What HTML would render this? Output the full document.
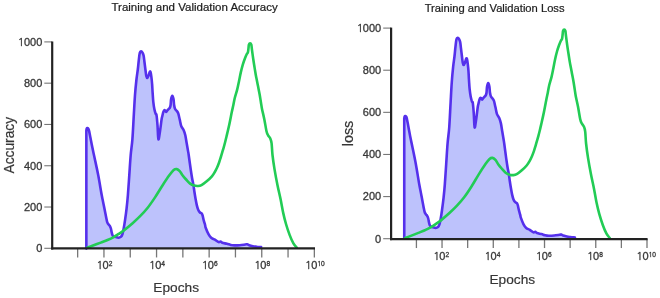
<!DOCTYPE html>
<html><head><meta charset="utf-8"><style>
html,body{margin:0;padding:0;background:#fff;}
body{width:660px;height:298px;overflow:hidden;}
svg{display:block;}
text{font-family:"Liberation Sans", Arial, sans-serif;}
.tl{font-size:11px;fill:#383838;stroke:#383838;stroke-width:0.3px;}
.sup{font-size:6.6px;}
.one{font-family:NanumGothic, "Liberation Sans", sans-serif;letter-spacing:-0.05em;}
.title{font-size:11.5px;fill:#1e1e1e;stroke:#1e1e1e;stroke-width:0.22px;}
.al{font-size:13.7px;fill:#363636;stroke:#363636;stroke-width:0.2px;}
</style></head><body>
<svg width="660" height="298" viewBox="0 0 660 298">
<rect width="660" height="298" fill="#fff"/>
<path d="M86.35,248.60 L86.35,130.50 C86.42,130.18 86.58,129.00 86.75,128.60 C86.92,128.20 87.11,128.03 87.40,128.10 C87.69,128.17 88.20,128.45 88.50,129.00 C88.80,129.55 88.87,129.88 89.20,131.40 C89.53,132.92 90.07,135.87 90.50,138.10 C90.93,140.33 91.35,142.55 91.80,144.80 C92.25,147.05 92.73,149.40 93.20,151.60 C93.67,153.80 93.77,154.08 94.60,158.00 C95.43,161.92 97.02,168.93 98.20,175.10 C99.38,181.27 100.83,190.28 101.70,195.00 C102.57,199.72 102.78,200.32 103.40,203.40 C104.02,206.48 104.88,210.90 105.40,213.50 C105.92,216.10 106.17,217.48 106.50,219.00 C106.83,220.52 107.05,221.68 107.40,222.60 C107.75,223.52 108.20,223.95 108.60,224.50 C109.00,225.05 109.42,225.23 109.80,225.90 C110.18,226.57 110.60,227.48 110.90,228.50 C111.20,229.52 111.35,230.92 111.60,232.00 C111.85,233.08 112.07,234.25 112.40,235.00 C112.73,235.75 113.02,236.15 113.60,236.50 C114.18,236.85 115.10,236.90 115.90,237.10 C116.70,237.30 117.57,237.75 118.40,237.70 C119.23,237.65 120.23,237.38 120.90,236.80 C121.57,236.22 121.97,235.40 122.40,234.20 C122.83,233.00 123.07,231.90 123.50,229.60 C123.93,227.30 124.48,223.93 125.00,220.40 C125.52,216.87 126.12,212.63 126.60,208.40 C127.08,204.17 127.45,200.55 127.90,195.00 C128.35,189.45 128.83,181.77 129.30,175.10 C129.77,168.43 130.18,160.97 130.70,155.00 C131.22,149.03 131.88,145.95 132.40,139.30 C132.92,132.65 133.37,122.48 133.80,115.10 C134.23,107.72 134.57,100.85 135.00,95.00 C135.43,89.15 135.93,84.25 136.40,80.00 C136.87,75.75 137.40,72.82 137.80,69.50 C138.20,66.18 138.47,62.88 138.80,60.10 C139.13,57.32 139.42,54.25 139.80,52.80 C140.18,51.35 140.65,51.43 141.10,51.40 C141.55,51.37 142.08,51.90 142.50,52.60 C142.92,53.30 143.28,54.12 143.60,55.60 C143.92,57.08 144.10,59.18 144.40,61.50 C144.70,63.82 145.08,67.08 145.40,69.50 C145.72,71.92 146.00,74.58 146.30,76.00 C146.60,77.42 146.85,78.00 147.20,78.00 C147.55,78.00 147.97,77.03 148.40,76.00 C148.83,74.97 149.43,72.42 149.80,71.80 C150.17,71.18 150.33,71.40 150.60,72.30 C150.87,73.20 151.15,75.25 151.40,77.20 C151.65,79.15 151.90,81.47 152.10,84.00 C152.30,86.53 152.40,89.43 152.60,92.40 C152.80,95.37 153.00,99.00 153.30,101.80 C153.60,104.60 154.00,107.18 154.40,109.20 C154.80,111.22 155.35,112.92 155.70,113.90 C156.05,114.88 156.20,113.22 156.50,115.10 C156.80,116.98 157.18,121.17 157.50,125.20 C157.82,129.23 157.98,138.30 158.40,139.30 C158.82,140.30 159.47,134.55 160.00,131.20 C160.53,127.85 161.20,121.77 161.60,119.20 C162.00,116.63 162.13,116.93 162.40,115.80 C162.67,114.67 162.90,113.32 163.20,112.40 C163.50,111.48 163.88,110.62 164.20,110.30 C164.52,109.98 164.78,110.22 165.10,110.50 C165.42,110.78 165.77,111.97 166.10,112.00 C166.43,112.03 166.68,111.18 167.10,110.70 C167.52,110.22 168.13,109.62 168.60,109.10 C169.07,108.58 169.57,108.28 169.90,107.60 C170.23,106.92 170.40,106.38 170.60,105.00 C170.80,103.62 170.82,100.83 171.10,99.30 C171.38,97.77 171.90,95.83 172.30,95.80 C172.70,95.77 173.20,97.57 173.50,99.10 C173.80,100.63 173.83,103.35 174.10,105.00 C174.37,106.65 174.67,108.03 175.10,109.00 C175.53,109.97 176.18,110.10 176.70,110.80 C177.22,111.50 177.78,112.13 178.20,113.20 C178.62,114.27 178.88,115.87 179.20,117.20 C179.52,118.53 179.75,119.70 180.10,121.20 C180.45,122.70 180.70,124.70 181.30,126.20 C181.90,127.70 183.03,128.68 183.70,130.20 C184.37,131.72 184.80,133.12 185.30,135.30 C185.80,137.48 186.23,140.62 186.70,143.30 C187.17,145.98 187.77,149.45 188.10,151.40 C188.43,153.35 188.25,151.90 188.70,155.00 C189.15,158.10 190.23,166.13 190.80,170.00 C191.37,173.87 191.67,175.72 192.10,178.20 C192.53,180.68 193.02,182.65 193.40,184.90 C193.78,187.15 194.05,189.45 194.40,191.70 C194.75,193.95 195.10,196.17 195.50,198.40 C195.90,200.63 196.35,203.20 196.80,205.10 C197.25,207.00 197.67,208.57 198.20,209.80 C198.73,211.03 199.40,211.88 200.00,212.50 C200.60,213.12 201.35,212.93 201.80,213.50 C202.25,214.07 202.37,214.72 202.70,215.90 C203.03,217.08 203.40,219.08 203.80,220.60 C204.20,222.12 204.78,223.82 205.10,225.00 C205.42,226.18 205.13,226.17 205.70,227.70 C206.27,229.23 207.58,232.52 208.50,234.20 C209.42,235.88 210.13,236.88 211.20,237.80 C212.27,238.72 213.67,238.98 214.90,239.70 C216.13,240.42 217.67,241.80 218.60,242.10 C219.53,242.40 219.88,241.38 220.50,241.50 C221.12,241.62 221.23,242.42 222.30,242.80 C223.37,243.18 225.52,243.45 226.90,243.80 C228.28,244.15 229.37,244.63 230.60,244.90 C231.83,245.17 232.77,245.35 234.30,245.40 C235.83,245.45 237.95,245.35 239.80,245.20 C241.65,245.05 244.17,244.65 245.40,244.50 C246.63,244.35 246.58,244.18 247.20,244.30 C247.82,244.42 248.17,244.88 249.10,245.20 C250.03,245.52 251.57,245.95 252.80,246.20 C254.03,246.45 255.12,246.55 256.50,246.70 C257.88,246.85 260.33,247.03 261.10,247.10 L261.10,248.60 Z" fill="#bdc2fc" stroke="none"/>
<path d="M86.35,248.60 L86.35,130.50 C86.42,130.18 86.58,129.00 86.75,128.60 C86.92,128.20 87.11,128.03 87.40,128.10 C87.69,128.17 88.20,128.45 88.50,129.00 C88.80,129.55 88.87,129.88 89.20,131.40 C89.53,132.92 90.07,135.87 90.50,138.10 C90.93,140.33 91.35,142.55 91.80,144.80 C92.25,147.05 92.73,149.40 93.20,151.60 C93.67,153.80 93.77,154.08 94.60,158.00 C95.43,161.92 97.02,168.93 98.20,175.10 C99.38,181.27 100.83,190.28 101.70,195.00 C102.57,199.72 102.78,200.32 103.40,203.40 C104.02,206.48 104.88,210.90 105.40,213.50 C105.92,216.10 106.17,217.48 106.50,219.00 C106.83,220.52 107.05,221.68 107.40,222.60 C107.75,223.52 108.20,223.95 108.60,224.50 C109.00,225.05 109.42,225.23 109.80,225.90 C110.18,226.57 110.60,227.48 110.90,228.50 C111.20,229.52 111.35,230.92 111.60,232.00 C111.85,233.08 112.07,234.25 112.40,235.00 C112.73,235.75 113.02,236.15 113.60,236.50 C114.18,236.85 115.10,236.90 115.90,237.10 C116.70,237.30 117.57,237.75 118.40,237.70 C119.23,237.65 120.23,237.38 120.90,236.80 C121.57,236.22 121.97,235.40 122.40,234.20 C122.83,233.00 123.07,231.90 123.50,229.60 C123.93,227.30 124.48,223.93 125.00,220.40 C125.52,216.87 126.12,212.63 126.60,208.40 C127.08,204.17 127.45,200.55 127.90,195.00 C128.35,189.45 128.83,181.77 129.30,175.10 C129.77,168.43 130.18,160.97 130.70,155.00 C131.22,149.03 131.88,145.95 132.40,139.30 C132.92,132.65 133.37,122.48 133.80,115.10 C134.23,107.72 134.57,100.85 135.00,95.00 C135.43,89.15 135.93,84.25 136.40,80.00 C136.87,75.75 137.40,72.82 137.80,69.50 C138.20,66.18 138.47,62.88 138.80,60.10 C139.13,57.32 139.42,54.25 139.80,52.80 C140.18,51.35 140.65,51.43 141.10,51.40 C141.55,51.37 142.08,51.90 142.50,52.60 C142.92,53.30 143.28,54.12 143.60,55.60 C143.92,57.08 144.10,59.18 144.40,61.50 C144.70,63.82 145.08,67.08 145.40,69.50 C145.72,71.92 146.00,74.58 146.30,76.00 C146.60,77.42 146.85,78.00 147.20,78.00 C147.55,78.00 147.97,77.03 148.40,76.00 C148.83,74.97 149.43,72.42 149.80,71.80 C150.17,71.18 150.33,71.40 150.60,72.30 C150.87,73.20 151.15,75.25 151.40,77.20 C151.65,79.15 151.90,81.47 152.10,84.00 C152.30,86.53 152.40,89.43 152.60,92.40 C152.80,95.37 153.00,99.00 153.30,101.80 C153.60,104.60 154.00,107.18 154.40,109.20 C154.80,111.22 155.35,112.92 155.70,113.90 C156.05,114.88 156.20,113.22 156.50,115.10 C156.80,116.98 157.18,121.17 157.50,125.20 C157.82,129.23 157.98,138.30 158.40,139.30 C158.82,140.30 159.47,134.55 160.00,131.20 C160.53,127.85 161.20,121.77 161.60,119.20 C162.00,116.63 162.13,116.93 162.40,115.80 C162.67,114.67 162.90,113.32 163.20,112.40 C163.50,111.48 163.88,110.62 164.20,110.30 C164.52,109.98 164.78,110.22 165.10,110.50 C165.42,110.78 165.77,111.97 166.10,112.00 C166.43,112.03 166.68,111.18 167.10,110.70 C167.52,110.22 168.13,109.62 168.60,109.10 C169.07,108.58 169.57,108.28 169.90,107.60 C170.23,106.92 170.40,106.38 170.60,105.00 C170.80,103.62 170.82,100.83 171.10,99.30 C171.38,97.77 171.90,95.83 172.30,95.80 C172.70,95.77 173.20,97.57 173.50,99.10 C173.80,100.63 173.83,103.35 174.10,105.00 C174.37,106.65 174.67,108.03 175.10,109.00 C175.53,109.97 176.18,110.10 176.70,110.80 C177.22,111.50 177.78,112.13 178.20,113.20 C178.62,114.27 178.88,115.87 179.20,117.20 C179.52,118.53 179.75,119.70 180.10,121.20 C180.45,122.70 180.70,124.70 181.30,126.20 C181.90,127.70 183.03,128.68 183.70,130.20 C184.37,131.72 184.80,133.12 185.30,135.30 C185.80,137.48 186.23,140.62 186.70,143.30 C187.17,145.98 187.77,149.45 188.10,151.40 C188.43,153.35 188.25,151.90 188.70,155.00 C189.15,158.10 190.23,166.13 190.80,170.00 C191.37,173.87 191.67,175.72 192.10,178.20 C192.53,180.68 193.02,182.65 193.40,184.90 C193.78,187.15 194.05,189.45 194.40,191.70 C194.75,193.95 195.10,196.17 195.50,198.40 C195.90,200.63 196.35,203.20 196.80,205.10 C197.25,207.00 197.67,208.57 198.20,209.80 C198.73,211.03 199.40,211.88 200.00,212.50 C200.60,213.12 201.35,212.93 201.80,213.50 C202.25,214.07 202.37,214.72 202.70,215.90 C203.03,217.08 203.40,219.08 203.80,220.60 C204.20,222.12 204.78,223.82 205.10,225.00 C205.42,226.18 205.13,226.17 205.70,227.70 C206.27,229.23 207.58,232.52 208.50,234.20 C209.42,235.88 210.13,236.88 211.20,237.80 C212.27,238.72 213.67,238.98 214.90,239.70 C216.13,240.42 217.67,241.80 218.60,242.10 C219.53,242.40 219.88,241.38 220.50,241.50 C221.12,241.62 221.23,242.42 222.30,242.80 C223.37,243.18 225.52,243.45 226.90,243.80 C228.28,244.15 229.37,244.63 230.60,244.90 C231.83,245.17 232.77,245.35 234.30,245.40 C235.83,245.45 237.95,245.35 239.80,245.20 C241.65,245.05 244.17,244.65 245.40,244.50 C246.63,244.35 246.58,244.18 247.20,244.30 C247.82,244.42 248.17,244.88 249.10,245.20 C250.03,245.52 251.57,245.95 252.80,246.20 C254.03,246.45 255.12,246.55 256.50,246.70 C257.88,246.85 260.33,247.03 261.10,247.10" fill="none" stroke="#5530ec" stroke-width="2.6" stroke-linejoin="round" stroke-linecap="round"/>
<path d="M87.20,247.70 C88.07,247.38 90.13,246.65 92.40,245.80 C94.67,244.95 98.28,243.57 100.80,242.60 C103.32,241.63 105.42,240.88 107.50,240.00 C109.58,239.12 111.35,238.37 113.30,237.30 C115.25,236.23 117.38,234.80 119.20,233.60 C121.02,232.40 121.97,231.83 124.20,230.10 C126.43,228.37 129.95,225.52 132.60,223.20 C135.25,220.88 137.58,218.78 140.10,216.20 C142.62,213.62 145.18,210.88 147.70,207.70 C150.22,204.52 152.68,200.88 155.20,197.10 C157.72,193.32 160.42,188.67 162.80,185.00 C165.18,181.33 167.68,177.58 169.50,175.10 C171.32,172.62 172.50,171.10 173.70,170.10 C174.90,169.10 175.70,168.93 176.70,169.10 C177.70,169.27 178.70,170.03 179.70,171.10 C180.70,172.17 181.63,174.10 182.70,175.50 C183.77,176.90 184.87,178.15 186.10,179.50 C187.33,180.85 188.77,182.58 190.10,183.60 C191.43,184.62 192.77,185.20 194.10,185.60 C195.43,186.00 196.87,186.08 198.10,186.00 C199.33,185.92 200.07,185.88 201.50,185.10 C202.93,184.32 204.97,182.77 206.70,181.30 C208.43,179.83 210.55,177.85 211.90,176.30 C213.25,174.75 213.93,173.47 214.80,172.00 C215.67,170.53 216.38,169.08 217.10,167.50 C217.82,165.92 218.50,164.17 219.10,162.50 C219.70,160.83 220.17,159.22 220.70,157.50 C221.23,155.78 221.80,153.87 222.30,152.20 C222.80,150.53 223.23,149.17 223.70,147.50 C224.17,145.83 224.63,144.03 225.10,142.20 C225.57,140.37 225.80,139.45 226.50,136.50 C227.20,133.55 228.42,128.57 229.30,124.50 C230.18,120.43 231.13,115.32 231.80,112.10 C232.47,108.88 232.82,107.52 233.30,105.20 C233.78,102.88 234.07,100.75 234.70,98.20 C235.33,95.65 236.38,92.73 237.10,89.90 C237.82,87.07 238.38,84.12 239.00,81.20 C239.62,78.28 240.17,75.17 240.80,72.40 C241.43,69.63 242.12,66.92 242.80,64.60 C243.48,62.28 244.25,60.22 244.90,58.50 C245.55,56.78 246.20,55.32 246.70,54.30 C247.20,53.28 247.60,53.42 247.90,52.40 C248.20,51.38 248.33,49.48 248.50,48.20 C248.67,46.92 248.63,45.53 248.90,44.70 C249.17,43.87 249.70,43.20 250.10,43.20 C250.50,43.20 251.00,43.67 251.30,44.70 C251.60,45.73 251.58,47.05 251.90,49.40 C252.22,51.75 252.77,55.85 253.20,58.80 C253.63,61.75 254.07,64.40 254.50,67.10 C254.93,69.80 255.45,73.02 255.80,75.00 C256.15,76.98 256.23,77.15 256.60,79.00 C256.97,80.85 257.50,83.57 258.00,86.10 C258.50,88.63 259.12,91.52 259.60,94.20 C260.08,96.88 260.50,99.75 260.90,102.20 C261.30,104.65 261.43,106.07 262.00,108.90 C262.57,111.73 263.55,115.48 264.30,119.20 C265.05,122.92 265.87,128.52 266.50,131.20 C267.13,133.88 267.47,134.08 268.10,135.30 C268.73,136.52 269.72,137.17 270.30,138.50 C270.88,139.83 271.23,140.55 271.60,143.30 C271.97,146.05 272.02,150.70 272.50,155.00 C272.98,159.30 273.67,164.07 274.50,169.10 C275.33,174.13 276.48,180.17 277.50,185.20 C278.52,190.23 279.65,194.68 280.60,199.30 C281.55,203.92 282.30,208.78 283.20,212.90 C284.10,217.02 284.92,220.30 286.00,224.00 C287.08,227.70 288.47,231.87 289.70,235.10 C290.93,238.33 292.23,241.32 293.40,243.40 C294.57,245.48 296.15,246.90 296.70,247.60" fill="none" stroke="#22cc55" stroke-width="2.6" stroke-linejoin="round" stroke-linecap="round"/>
<line x1="44.30" x2="52.20" y1="248.30" y2="248.30" stroke="#777" stroke-width="1.1"/>
<text x="42.30" y="252.20" text-anchor="end" class="tl">0</text>
<line x1="44.30" x2="52.20" y1="207.02" y2="207.02" stroke="#777" stroke-width="1.1"/>
<text x="42.30" y="210.92" text-anchor="end" class="tl">200</text>
<line x1="44.30" x2="52.20" y1="165.74" y2="165.74" stroke="#777" stroke-width="1.1"/>
<text x="42.30" y="169.64" text-anchor="end" class="tl">400</text>
<line x1="44.30" x2="52.20" y1="124.46" y2="124.46" stroke="#777" stroke-width="1.1"/>
<text x="42.30" y="128.36" text-anchor="end" class="tl">600</text>
<line x1="44.30" x2="52.20" y1="83.18" y2="83.18" stroke="#777" stroke-width="1.1"/>
<text x="42.30" y="87.08" text-anchor="end" class="tl">800</text>
<line x1="44.30" x2="52.20" y1="41.90" y2="41.90" stroke="#777" stroke-width="1.1"/>
<text x="42.30" y="45.80" text-anchor="end" class="tl"><tspan class="one">1</tspan>000</text>
<line x1="77.65" x2="77.65" y1="248.45" y2="257.45" stroke="#777" stroke-width="1.3"/>
<line x1="103.95" x2="103.95" y1="248.45" y2="257.45" stroke="#777" stroke-width="1.3"/>
<text x="104.40" y="268.95" text-anchor="middle" class="tl"><tspan class="one">1</tspan>0<tspan class="sup" dy="-3.1">2</tspan></text>
<line x1="130.25" x2="130.25" y1="248.45" y2="257.45" stroke="#777" stroke-width="1.3"/>
<line x1="156.55" x2="156.55" y1="248.45" y2="257.45" stroke="#777" stroke-width="1.3"/>
<text x="157.00" y="268.95" text-anchor="middle" class="tl"><tspan class="one">1</tspan>0<tspan class="sup" dy="-3.1">4</tspan></text>
<line x1="182.85" x2="182.85" y1="248.45" y2="257.45" stroke="#777" stroke-width="1.3"/>
<line x1="209.15" x2="209.15" y1="248.45" y2="257.45" stroke="#777" stroke-width="1.3"/>
<text x="209.60" y="268.95" text-anchor="middle" class="tl"><tspan class="one">1</tspan>0<tspan class="sup" dy="-3.1">6</tspan></text>
<line x1="235.45" x2="235.45" y1="248.45" y2="257.45" stroke="#777" stroke-width="1.3"/>
<line x1="261.75" x2="261.75" y1="248.45" y2="257.45" stroke="#777" stroke-width="1.3"/>
<text x="262.20" y="268.95" text-anchor="middle" class="tl"><tspan class="one">1</tspan>0<tspan class="sup" dy="-3.1">8</tspan></text>
<line x1="288.05" x2="288.05" y1="248.45" y2="257.45" stroke="#777" stroke-width="1.3"/>
<line x1="314.35" x2="314.35" y1="248.45" y2="257.45" stroke="#777" stroke-width="1.3"/>
<text x="314.80" y="268.95" text-anchor="middle" class="tl"><tspan class="one">1</tspan>0<tspan class="sup" dy="-3.1"><tspan class="one">1</tspan>0</tspan></text>
<line x1="52.20" x2="52.20" y1="41.50" y2="249.55" stroke="#222" stroke-width="2.2"/>
<line x1="51.10" x2="315.00" y1="248.45" y2="248.45" stroke="#222" stroke-width="2.2"/>
<text x="194.60" y="11.40" text-anchor="middle" class="title" style="font-size:11.5px">Training and Validation Accuracy</text>
<text x="176.20" y="291.90" text-anchor="middle" class="al">Epochs</text>
<text transform="translate(13.60,145.20) rotate(-90)" x="0" y="0" text-anchor="middle" class="al" style="font-size:13.8px">Accuracy</text>
<path d="M404.25,238.80 L404.25,118.50 C404.31,118.18 404.47,116.97 404.64,116.56 C404.81,116.15 404.99,115.98 405.27,116.05 C405.56,116.12 406.05,116.41 406.35,116.97 C406.64,117.53 406.70,117.87 407.03,119.42 C407.36,120.96 407.88,123.97 408.30,126.25 C408.72,128.53 409.13,130.79 409.57,133.09 C410.01,135.39 410.48,137.78 410.94,140.03 C411.39,142.27 411.49,142.56 412.31,146.56 C413.12,150.55 414.67,157.71 415.82,164.00 C416.98,170.30 418.39,179.50 419.24,184.31 C420.09,189.12 420.30,189.73 420.90,192.88 C421.50,196.02 422.35,200.53 422.85,203.18 C423.36,205.84 423.60,207.25 423.93,208.80 C424.25,210.34 424.47,211.53 424.81,212.47 C425.15,213.40 425.59,213.85 425.98,214.41 C426.37,214.97 426.78,215.16 427.15,215.84 C427.53,216.52 427.93,217.45 428.23,218.49 C428.52,219.53 428.67,220.95 428.91,222.06 C429.16,223.16 429.37,224.36 429.69,225.12 C430.02,225.89 430.29,226.29 430.86,226.65 C431.43,227.01 432.33,227.06 433.11,227.26 C433.89,227.47 434.74,227.93 435.55,227.88 C436.37,227.82 437.34,227.55 438.00,226.96 C438.65,226.36 439.04,225.53 439.46,224.30 C439.88,223.08 440.11,221.96 440.53,219.61 C440.96,217.26 441.50,213.83 442.00,210.22 C442.50,206.62 443.09,202.30 443.56,197.98 C444.03,193.66 444.39,189.97 444.83,184.31 C445.27,178.65 445.74,170.81 446.20,164.00 C446.66,157.20 447.06,149.58 447.57,143.50 C448.07,137.41 448.72,134.26 449.23,127.48 C449.73,120.69 450.17,110.32 450.60,102.79 C451.02,95.25 451.34,88.25 451.77,82.28 C452.19,76.31 452.68,71.31 453.14,66.97 C453.59,62.64 454.11,59.64 454.50,56.26 C454.89,52.88 455.15,49.51 455.48,46.67 C455.81,43.83 456.08,40.70 456.46,39.22 C456.83,37.74 457.29,37.83 457.73,37.79 C458.17,37.76 458.69,38.30 459.09,39.02 C459.50,39.73 459.86,40.57 460.17,42.08 C460.48,43.59 460.66,45.73 460.95,48.10 C461.24,50.46 461.62,53.80 461.93,56.26 C462.24,58.73 462.51,61.45 462.81,62.89 C463.10,64.34 463.34,64.93 463.68,64.93 C464.03,64.93 464.43,63.95 464.86,62.89 C465.28,61.84 465.87,59.24 466.22,58.61 C466.58,57.98 466.75,58.20 467.01,59.12 C467.27,60.04 467.54,62.13 467.79,64.12 C468.03,66.11 468.28,68.47 468.47,71.06 C468.67,73.64 468.76,76.60 468.96,79.63 C469.16,82.65 469.35,86.36 469.64,89.22 C469.94,92.07 470.33,94.71 470.72,96.77 C471.11,98.82 471.65,100.56 471.99,101.56 C472.33,102.57 472.48,100.86 472.77,102.79 C473.06,104.71 473.44,108.98 473.75,113.09 C474.06,117.21 474.22,126.46 474.63,127.48 C475.03,128.50 475.67,122.63 476.19,119.21 C476.71,115.80 477.36,109.59 477.75,106.97 C478.14,104.35 478.27,104.66 478.53,103.50 C478.79,102.34 479.02,100.97 479.31,100.03 C479.61,99.10 479.98,98.21 480.29,97.89 C480.60,97.57 480.86,97.80 481.17,98.09 C481.48,98.38 481.82,99.59 482.15,99.62 C482.47,99.66 482.72,98.79 483.12,98.30 C483.53,97.80 484.13,97.19 484.59,96.66 C485.04,96.14 485.53,95.83 485.86,95.13 C486.18,94.44 486.35,93.89 486.54,92.48 C486.74,91.07 486.75,88.23 487.03,86.67 C487.31,85.10 487.81,83.13 488.20,83.09 C488.59,83.06 489.08,84.90 489.37,86.46 C489.67,88.03 489.70,90.80 489.96,92.48 C490.22,94.16 490.51,95.58 490.94,96.56 C491.36,97.55 492.00,97.69 492.50,98.40 C493.01,99.11 493.56,99.76 493.97,100.85 C494.37,101.94 494.63,103.57 494.94,104.93 C495.25,106.29 495.48,107.48 495.82,109.01 C496.16,110.54 496.41,112.58 496.99,114.11 C497.58,115.64 498.69,116.65 499.34,118.19 C499.99,119.74 500.41,121.17 500.90,123.40 C501.39,125.62 501.81,128.82 502.27,131.56 C502.72,134.30 503.31,137.83 503.64,139.82 C503.96,141.81 503.78,140.33 504.22,143.50 C504.66,146.66 505.72,154.86 506.27,158.80 C506.83,162.75 507.12,164.63 507.54,167.17 C507.97,169.70 508.44,171.71 508.81,174.00 C509.19,176.30 509.45,178.65 509.79,180.94 C510.13,183.24 510.47,185.50 510.86,187.78 C511.26,190.06 511.69,192.67 512.13,194.61 C512.57,196.55 512.98,198.15 513.50,199.41 C514.02,200.67 514.67,201.53 515.26,202.16 C515.85,202.79 516.58,202.61 517.02,203.18 C517.46,203.76 517.57,204.43 517.90,205.63 C518.22,206.84 518.58,208.88 518.97,210.43 C519.36,211.98 519.93,213.71 520.24,214.92 C520.55,216.12 520.27,216.11 520.83,217.67 C521.38,219.24 522.67,222.59 523.56,224.30 C524.46,226.02 525.16,227.04 526.20,227.98 C527.24,228.91 528.61,229.18 529.81,229.92 C531.02,230.65 532.52,232.06 533.43,232.36 C534.34,232.67 534.68,231.63 535.28,231.75 C535.89,231.87 536.00,232.69 537.04,233.08 C538.08,233.47 540.18,233.74 541.54,234.10 C542.89,234.46 543.95,234.95 545.15,235.22 C546.35,235.49 547.27,235.68 548.76,235.73 C550.26,235.78 552.33,235.68 554.14,235.53 C555.94,235.37 558.40,234.97 559.61,234.81 C560.81,234.66 560.76,234.49 561.36,234.61 C561.97,234.73 562.31,235.20 563.22,235.53 C564.13,235.85 565.63,236.29 566.84,236.55 C568.04,236.80 569.10,236.90 570.45,237.06 C571.80,237.21 574.19,237.40 574.94,237.47 L574.94,238.80 Z" fill="#bdc2fc" stroke="none"/>
<path d="M404.25,238.80 L404.25,118.50 C404.31,118.18 404.47,116.97 404.64,116.56 C404.81,116.15 404.99,115.98 405.27,116.05 C405.56,116.12 406.05,116.41 406.35,116.97 C406.64,117.53 406.70,117.87 407.03,119.42 C407.36,120.96 407.88,123.97 408.30,126.25 C408.72,128.53 409.13,130.79 409.57,133.09 C410.01,135.39 410.48,137.78 410.94,140.03 C411.39,142.27 411.49,142.56 412.31,146.56 C413.12,150.55 414.67,157.71 415.82,164.00 C416.98,170.30 418.39,179.50 419.24,184.31 C420.09,189.12 420.30,189.73 420.90,192.88 C421.50,196.02 422.35,200.53 422.85,203.18 C423.36,205.84 423.60,207.25 423.93,208.80 C424.25,210.34 424.47,211.53 424.81,212.47 C425.15,213.40 425.59,213.85 425.98,214.41 C426.37,214.97 426.78,215.16 427.15,215.84 C427.53,216.52 427.93,217.45 428.23,218.49 C428.52,219.53 428.67,220.95 428.91,222.06 C429.16,223.16 429.37,224.36 429.69,225.12 C430.02,225.89 430.29,226.29 430.86,226.65 C431.43,227.01 432.33,227.06 433.11,227.26 C433.89,227.47 434.74,227.93 435.55,227.88 C436.37,227.82 437.34,227.55 438.00,226.96 C438.65,226.36 439.04,225.53 439.46,224.30 C439.88,223.08 440.11,221.96 440.53,219.61 C440.96,217.26 441.50,213.83 442.00,210.22 C442.50,206.62 443.09,202.30 443.56,197.98 C444.03,193.66 444.39,189.97 444.83,184.31 C445.27,178.65 445.74,170.81 446.20,164.00 C446.66,157.20 447.06,149.58 447.57,143.50 C448.07,137.41 448.72,134.26 449.23,127.48 C449.73,120.69 450.17,110.32 450.60,102.79 C451.02,95.25 451.34,88.25 451.77,82.28 C452.19,76.31 452.68,71.31 453.14,66.97 C453.59,62.64 454.11,59.64 454.50,56.26 C454.89,52.88 455.15,49.51 455.48,46.67 C455.81,43.83 456.08,40.70 456.46,39.22 C456.83,37.74 457.29,37.83 457.73,37.79 C458.17,37.76 458.69,38.30 459.09,39.02 C459.50,39.73 459.86,40.57 460.17,42.08 C460.48,43.59 460.66,45.73 460.95,48.10 C461.24,50.46 461.62,53.80 461.93,56.26 C462.24,58.73 462.51,61.45 462.81,62.89 C463.10,64.34 463.34,64.93 463.68,64.93 C464.03,64.93 464.43,63.95 464.86,62.89 C465.28,61.84 465.87,59.24 466.22,58.61 C466.58,57.98 466.75,58.20 467.01,59.12 C467.27,60.04 467.54,62.13 467.79,64.12 C468.03,66.11 468.28,68.47 468.47,71.06 C468.67,73.64 468.76,76.60 468.96,79.63 C469.16,82.65 469.35,86.36 469.64,89.22 C469.94,92.07 470.33,94.71 470.72,96.77 C471.11,98.82 471.65,100.56 471.99,101.56 C472.33,102.57 472.48,100.86 472.77,102.79 C473.06,104.71 473.44,108.98 473.75,113.09 C474.06,117.21 474.22,126.46 474.63,127.48 C475.03,128.50 475.67,122.63 476.19,119.21 C476.71,115.80 477.36,109.59 477.75,106.97 C478.14,104.35 478.27,104.66 478.53,103.50 C478.79,102.34 479.02,100.97 479.31,100.03 C479.61,99.10 479.98,98.21 480.29,97.89 C480.60,97.57 480.86,97.80 481.17,98.09 C481.48,98.38 481.82,99.59 482.15,99.62 C482.47,99.66 482.72,98.79 483.12,98.30 C483.53,97.80 484.13,97.19 484.59,96.66 C485.04,96.14 485.53,95.83 485.86,95.13 C486.18,94.44 486.35,93.89 486.54,92.48 C486.74,91.07 486.75,88.23 487.03,86.67 C487.31,85.10 487.81,83.13 488.20,83.09 C488.59,83.06 489.08,84.90 489.37,86.46 C489.67,88.03 489.70,90.80 489.96,92.48 C490.22,94.16 490.51,95.58 490.94,96.56 C491.36,97.55 492.00,97.69 492.50,98.40 C493.01,99.11 493.56,99.76 493.97,100.85 C494.37,101.94 494.63,103.57 494.94,104.93 C495.25,106.29 495.48,107.48 495.82,109.01 C496.16,110.54 496.41,112.58 496.99,114.11 C497.58,115.64 498.69,116.65 499.34,118.19 C499.99,119.74 500.41,121.17 500.90,123.40 C501.39,125.62 501.81,128.82 502.27,131.56 C502.72,134.30 503.31,137.83 503.64,139.82 C503.96,141.81 503.78,140.33 504.22,143.50 C504.66,146.66 505.72,154.86 506.27,158.80 C506.83,162.75 507.12,164.63 507.54,167.17 C507.97,169.70 508.44,171.71 508.81,174.00 C509.19,176.30 509.45,178.65 509.79,180.94 C510.13,183.24 510.47,185.50 510.86,187.78 C511.26,190.06 511.69,192.67 512.13,194.61 C512.57,196.55 512.98,198.15 513.50,199.41 C514.02,200.67 514.67,201.53 515.26,202.16 C515.85,202.79 516.58,202.61 517.02,203.18 C517.46,203.76 517.57,204.43 517.90,205.63 C518.22,206.84 518.58,208.88 518.97,210.43 C519.36,211.98 519.93,213.71 520.24,214.92 C520.55,216.12 520.27,216.11 520.83,217.67 C521.38,219.24 522.67,222.59 523.56,224.30 C524.46,226.02 525.16,227.04 526.20,227.98 C527.24,228.91 528.61,229.18 529.81,229.92 C531.02,230.65 532.52,232.06 533.43,232.36 C534.34,232.67 534.68,231.63 535.28,231.75 C535.89,231.87 536.00,232.69 537.04,233.08 C538.08,233.47 540.18,233.74 541.54,234.10 C542.89,234.46 543.95,234.95 545.15,235.22 C546.35,235.49 547.27,235.68 548.76,235.73 C550.26,235.78 552.33,235.68 554.14,235.53 C555.94,235.37 558.40,234.97 559.61,234.81 C560.81,234.66 560.76,234.49 561.36,234.61 C561.97,234.73 562.31,235.20 563.22,235.53 C564.13,235.85 565.63,236.29 566.84,236.55 C568.04,236.80 569.10,236.90 570.45,237.06 C571.80,237.21 574.19,237.40 574.94,237.47" fill="none" stroke="#5530ec" stroke-width="2.6" stroke-linejoin="round" stroke-linecap="round"/>
<path d="M405.08,238.08 C405.92,237.76 407.94,237.01 410.16,236.14 C412.37,235.27 415.90,233.86 418.36,232.87 C420.82,231.89 422.87,231.12 424.91,230.22 C426.94,229.32 428.67,228.56 430.57,227.47 C432.48,226.38 434.56,224.92 436.33,223.69 C438.11,222.47 439.04,221.89 441.22,220.12 C443.40,218.35 446.84,215.44 449.42,213.08 C452.01,210.72 454.29,208.57 456.75,205.94 C459.21,203.30 461.72,200.51 464.17,197.27 C466.63,194.02 469.04,190.31 471.50,186.45 C473.96,182.59 476.60,177.85 478.92,174.11 C481.25,170.36 483.69,166.54 485.47,164.00 C487.24,161.47 488.40,159.92 489.57,158.90 C490.74,157.88 491.52,157.71 492.50,157.88 C493.48,158.05 494.45,158.84 495.43,159.92 C496.41,161.01 497.32,162.98 498.36,164.41 C499.40,165.84 500.48,167.12 501.68,168.49 C502.89,169.87 504.29,171.64 505.59,172.68 C506.89,173.71 508.19,174.31 509.50,174.72 C510.80,175.13 512.20,175.21 513.40,175.13 C514.61,175.04 515.33,175.01 516.73,174.21 C518.13,173.41 520.11,171.83 521.80,170.33 C523.50,168.83 525.57,166.81 526.88,165.23 C528.20,163.65 528.87,162.34 529.72,160.84 C530.56,159.35 531.26,157.87 531.96,156.25 C532.66,154.63 533.33,152.85 533.92,151.15 C534.50,149.45 534.96,147.80 535.48,146.05 C536.00,144.30 536.55,142.34 537.04,140.64 C537.53,138.94 537.95,137.54 538.41,135.84 C538.87,134.14 539.32,132.31 539.78,130.44 C540.23,128.57 540.46,127.63 541.15,124.62 C541.83,121.61 543.02,116.53 543.88,112.38 C544.74,108.23 545.67,103.01 546.32,99.73 C546.97,96.44 547.32,95.05 547.79,92.69 C548.26,90.32 548.54,88.15 549.15,85.54 C549.77,82.94 550.80,79.97 551.50,77.07 C552.20,74.18 552.75,71.17 553.36,68.20 C553.96,65.22 554.49,62.04 555.11,59.22 C555.73,56.40 556.40,53.63 557.07,51.26 C557.73,48.90 558.48,46.79 559.12,45.04 C559.75,43.29 560.39,41.79 560.88,40.75 C561.36,39.71 561.76,39.85 562.05,38.81 C562.34,37.78 562.47,35.84 562.63,34.53 C562.80,33.22 562.77,31.81 563.03,30.96 C563.29,30.11 563.81,29.43 564.20,29.43 C564.59,29.43 565.08,29.90 565.37,30.96 C565.66,32.01 565.65,33.36 565.96,35.75 C566.27,38.15 566.80,42.33 567.23,45.34 C567.65,48.35 568.07,51.06 568.50,53.81 C568.92,56.57 569.42,59.85 569.77,61.87 C570.11,63.90 570.19,64.07 570.55,65.95 C570.91,67.84 571.43,70.61 571.91,73.20 C572.40,75.78 573.01,78.72 573.48,81.46 C573.95,84.20 574.36,87.12 574.75,89.62 C575.14,92.12 575.27,93.57 575.82,96.46 C576.38,99.35 577.34,103.18 578.07,106.97 C578.80,110.76 579.60,116.48 580.22,119.21 C580.84,121.95 581.16,122.16 581.78,123.40 C582.40,124.64 583.36,125.30 583.93,126.66 C584.50,128.02 584.84,128.75 585.20,131.56 C585.56,134.36 585.61,139.11 586.08,143.50 C586.55,147.88 587.22,152.75 588.03,157.88 C588.85,163.02 589.97,169.17 590.96,174.31 C591.96,179.45 593.06,183.99 593.99,188.70 C594.92,193.41 595.65,198.37 596.53,202.57 C597.41,206.77 598.21,210.12 599.26,213.90 C600.32,217.67 601.67,221.92 602.88,225.22 C604.08,228.52 605.35,231.57 606.49,233.69 C607.63,235.82 609.18,237.26 609.72,237.98" fill="none" stroke="#22cc55" stroke-width="2.6" stroke-linejoin="round" stroke-linecap="round"/>
<line x1="383.20" x2="391.10" y1="238.70" y2="238.70" stroke="#777" stroke-width="1.1"/>
<text x="381.20" y="242.60" text-anchor="end" class="tl">0</text>
<line x1="383.20" x2="391.10" y1="196.58" y2="196.58" stroke="#777" stroke-width="1.1"/>
<text x="381.20" y="200.48" text-anchor="end" class="tl">200</text>
<line x1="383.20" x2="391.10" y1="154.46" y2="154.46" stroke="#777" stroke-width="1.1"/>
<text x="381.20" y="158.36" text-anchor="end" class="tl">400</text>
<line x1="383.20" x2="391.10" y1="112.34" y2="112.34" stroke="#777" stroke-width="1.1"/>
<text x="381.20" y="116.24" text-anchor="end" class="tl">600</text>
<line x1="383.20" x2="391.10" y1="70.22" y2="70.22" stroke="#777" stroke-width="1.1"/>
<text x="381.20" y="74.12" text-anchor="end" class="tl">800</text>
<line x1="383.20" x2="391.10" y1="28.10" y2="28.10" stroke="#777" stroke-width="1.1"/>
<text x="381.20" y="32.00" text-anchor="end" class="tl"><tspan class="one">1</tspan>000</text>
<line x1="416.42" x2="416.42" y1="239.05" y2="248.05" stroke="#777" stroke-width="1.3"/>
<line x1="442.04" x2="442.04" y1="239.05" y2="248.05" stroke="#777" stroke-width="1.3"/>
<text x="441.19" y="259.85" text-anchor="middle" class="tl"><tspan class="one">1</tspan>0<tspan class="sup" dy="-3.1">2</tspan></text>
<line x1="467.66" x2="467.66" y1="239.05" y2="248.05" stroke="#777" stroke-width="1.3"/>
<line x1="493.28" x2="493.28" y1="239.05" y2="248.05" stroke="#777" stroke-width="1.3"/>
<text x="492.43" y="259.85" text-anchor="middle" class="tl"><tspan class="one">1</tspan>0<tspan class="sup" dy="-3.1">4</tspan></text>
<line x1="518.90" x2="518.90" y1="239.05" y2="248.05" stroke="#777" stroke-width="1.3"/>
<line x1="544.52" x2="544.52" y1="239.05" y2="248.05" stroke="#777" stroke-width="1.3"/>
<text x="543.67" y="259.85" text-anchor="middle" class="tl"><tspan class="one">1</tspan>0<tspan class="sup" dy="-3.1">6</tspan></text>
<line x1="570.14" x2="570.14" y1="239.05" y2="248.05" stroke="#777" stroke-width="1.3"/>
<line x1="595.76" x2="595.76" y1="239.05" y2="248.05" stroke="#777" stroke-width="1.3"/>
<text x="594.91" y="259.85" text-anchor="middle" class="tl"><tspan class="one">1</tspan>0<tspan class="sup" dy="-3.1">8</tspan></text>
<line x1="621.38" x2="621.38" y1="239.05" y2="248.05" stroke="#777" stroke-width="1.3"/>
<line x1="647.00" x2="647.00" y1="239.05" y2="248.05" stroke="#777" stroke-width="1.3"/>
<text x="646.15" y="259.85" text-anchor="middle" class="tl"><tspan class="one">1</tspan>0<tspan class="sup" dy="-3.1"><tspan class="one">1</tspan>0</tspan></text>
<line x1="391.10" x2="391.10" y1="27.60" y2="240.15" stroke="#222" stroke-width="2.2"/>
<line x1="390.00" x2="647.60" y1="239.05" y2="239.05" stroke="#222" stroke-width="2.2"/>
<text x="494.60" y="11.60" text-anchor="middle" class="title" style="font-size:11.2px">Training and Validation Loss</text>
<text x="512.30" y="283.70" text-anchor="middle" class="al">Epochs</text>
<text transform="translate(353.10,133.50) rotate(-90)" x="0" y="0" text-anchor="middle" class="al" style="font-size:14.4px">loss</text>
</svg>
</body></html>
